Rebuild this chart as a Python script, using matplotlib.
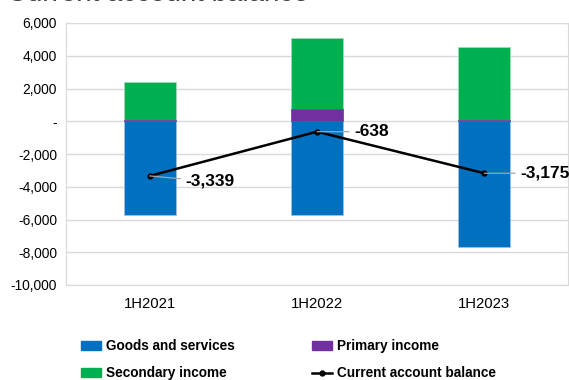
import matplotlib
matplotlib.use("Agg")
import matplotlib.pyplot as plt
from matplotlib.patches import Patch
from matplotlib.lines import Line2D
from matplotlib.ticker import FuncFormatter

plt.rcParams['font.family'] = ['Liberation Sans', 'DejaVu Sans']

# half-year current account components
periods = ['1H2021', '1H2022', '1H2023']
goods_services = [-5750, -5723, -7700]
primary_income = [100, 750, 100]
secondary_income = [2311, 4335, 4425]
balance = [-3339, -638, -3175]

c_goods = '#0070C0'
c_primary = '#7030A0'
c_secondary = '#00B050'

fig = plt.figure(figsize=(5.69, 3.80), dpi=100)
ax = fig.add_axes([66 / 569, 1 - 285 / 380, 502 / 569, 262 / 380])

x = list(range(len(periods)))
w = 0.31
ax.bar(x, goods_services, w, color=c_goods, edgecolor='#9dc3e6', linewidth=0.5, zorder=2)
ax.bar(x, primary_income, w, color=c_primary, edgecolor=c_primary, linewidth=0.5, zorder=3)
ax.bar(x, secondary_income, w, bottom=primary_income, color=c_secondary,
       edgecolor='#a9d8b8', linewidth=0.5, zorder=2)
ax.plot(x, balance, color='black', linewidth=1.8, marker='o', markersize=3.5, zorder=4)

# value labels with leader lines
offsets = [(26, -4), (27, 0), (26, 0)]
for xi, v, off in zip(x, balance, offsets):
    ax.annotate(f'{v:,}', xy=(xi, v), xytext=off, textcoords='offset points',
                ha='left', va='center', fontsize=12.5, fontweight='bold',
                arrowprops=dict(arrowstyle='-', color='#a6a6a6', lw=0.9,
                                shrinkA=2, shrinkB=0), zorder=5)

ax.set_xlim(-0.5, 2.5)
ax.set_ylim(-10000, 6000)
ax.set_yticks(range(-10000, 6001, 2000))
ax.yaxis.set_major_formatter(FuncFormatter(lambda v, p: '-' if v == 0 else f'{int(v):,}'))
ax.set_xticks(x)
ax.set_xticklabels(periods)
ax.tick_params(axis='both', length=0, colors='black')
ax.tick_params(axis='x', pad=8.5, labelsize=10.7)
ax.tick_params(axis='y', pad=6.5, labelsize=9.9)
ax.grid(axis='y', color='#d9d9d9', linewidth=1, zorder=0)
for s in ax.spines.values():
    s.set_color('#d9d9d9')

# chart heading, mostly above the top edge
fig.text(0.012, 1 - 1.2 / 380, 'Current account balance', fontsize=20,
         color='#404040', ha='left', va='baseline')

handles = [Patch(color=c_goods), Patch(color=c_secondary),
           Patch(color=c_primary),
           Line2D([], [], color='black', linewidth=1.8, marker='o', markersize=3.5)]
labels = ['Goods and services', 'Secondary income', 'Primary income',
          'Current account balance']
fig.legend(handles, labels, ncol=2, loc='upper left', bbox_to_anchor=(81 / 569, 1 - 339 / 380),
           frameon=False, prop={'weight': 'bold', 'size': 9.8}, handlelength=1.47,
           handleheight=0.6, handletextpad=0.37, columnspacing=5.66, labelspacing=0.99,
           borderaxespad=0, borderpad=0)

fig.savefig('out.png', dpi=100)
